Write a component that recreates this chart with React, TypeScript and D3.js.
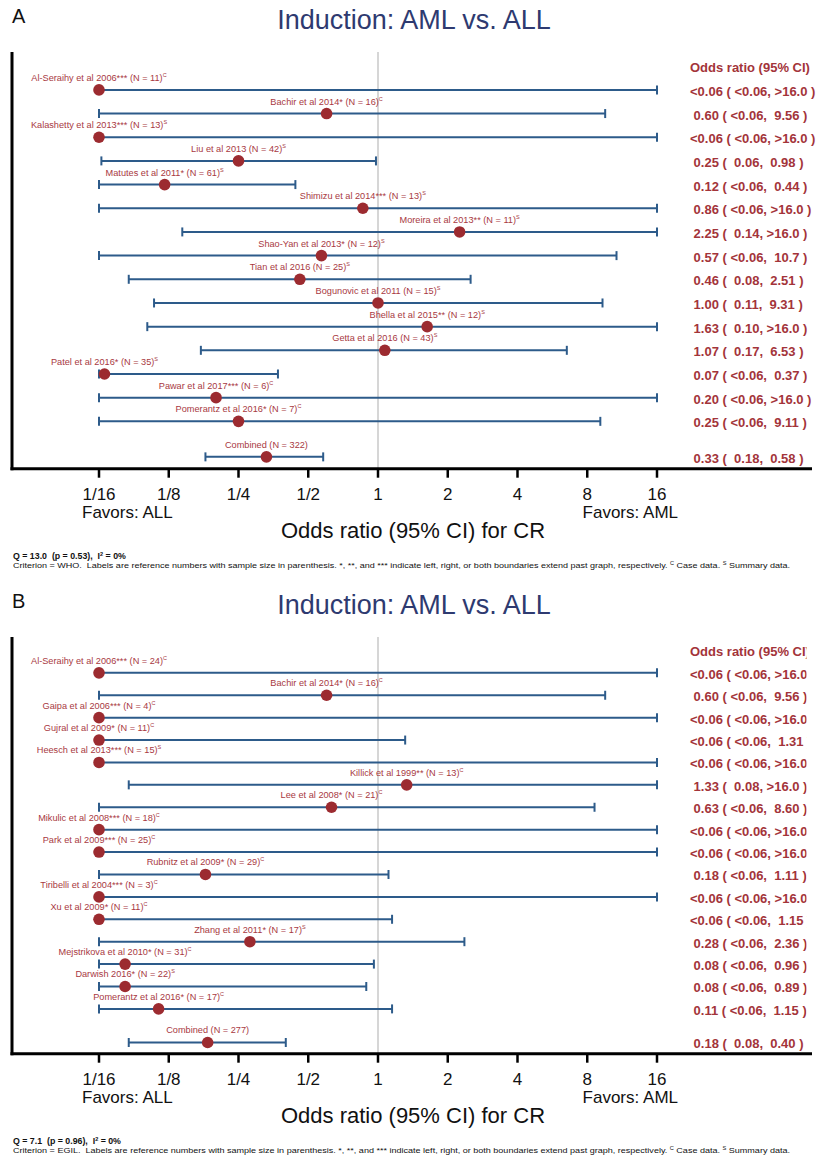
import React from "react";
import * as d3 from "d3";

// ---------- Data ----------
const LOW = 0; // below 0.06 (off-scale, left)
const HIGH = Infinity; // above 16 (off-scale, right)

const studiesA = [
  "Al-Seraihy et al 2006", "Bachir et al 2014", "Kalashetty et al 2013", "Liu et al 2013",
  "Matutes et al 2011", "Shimizu et al 2014", "Moreira et al 2013", "Shao-Yan et al 2013",
  "Tian et al 2016", "Bogunovic et al 2011", "Bhella et al 2015", "Getta et al 2016",
  "Patel et al 2016", "Pawar et al 2017", "Pomerantz et al 2016",
];
const flagsA = ["***", "*", "***", "", "*", "***", "**", "*", "", "", "**", "", "*", "***", "*"];
const sizesA = [11, 16, 13, 42, 61, 13, 11, 12, 25, 15, 12, 43, 35, 6, 7];
const sourceA = ["C", "C", "S", "S", "S", "S", "S", "S", "S", "S", "S", "S", "S", "C", "C"];
const orA = [LOW, 0.6, LOW, 0.25, 0.12, 0.86, 2.25, 0.57, 0.46, 1.0, 1.63, 1.07, 0.066, 0.2, 0.25];
const loA = [LOW, LOW, LOW, 0.064, LOW, LOW, 0.143, LOW, 0.084, 0.108, 0.101, 0.172, LOW, LOW, LOW];
const hiA = [HIGH, 9.56, HIGH, 0.98, 0.44, HIGH, HIGH, 10.7, 2.51, 9.31, HIGH, 6.53, 0.37, HIGH, 9.11];
const combinedA = { n: 322, or: 0.33, lo: 0.18, hi: 0.58 };
const statsA = { q: "13.0", p: "0.53", i2: "0%", criterion: "WHO" };

const studiesB = [
  "Al-Seraihy et al 2006", "Bachir et al 2014", "Gaipa et al 2006", "Gujral et al 2009",
  "Heesch et al 2013", "Killick et al 1999", "Lee et al 2008", "Mikulic et al 2008",
  "Park et al 2009", "Rubnitz et al 2009", "Tiribelli et al 2004", "Xu et al 2009",
  "Zhang et al 2011", "Mejstrikova et al 2010", "Darwish 2016", "Pomerantz et al 2016",
];
const flagsB = ["***", "*", "***", "*", "***", "**", "*", "***", "***", "*", "***", "*", "*", "*", "*", "*"];
const sizesB = [24, 16, 4, 11, 15, 13, 21, 18, 25, 29, 3, 11, 17, 31, 22, 17];
const sourceB = ["C", "C", "C", "C", "S", "C", "C", "C", "C", "C", "C", "C", "S", "C", "S", "C"];
const orB = [LOW, 0.6, LOW, LOW, LOW, 1.33, 0.63, LOW, LOW, 0.18, LOW, LOW, 0.28, 0.081, 0.081, 0.113];
const loB = [LOW, LOW, LOW, LOW, LOW, 0.084, LOW, LOW, LOW, LOW, LOW, LOW, LOW, LOW, LOW, LOW];
const hiB = [HIGH, 9.56, HIGH, 1.31, HIGH, HIGH, 8.6, HIGH, HIGH, 1.11, HIGH, 1.15, 2.36, 0.96, 0.89, 1.15];
const combinedB = { n: 277, or: 0.184, lo: 0.084, hi: 0.4 };
const statsB = { q: "7.1", p: "0.96", i2: "0%", criterion: "EGIL" };

const tickValues = [1 / 16, 1 / 8, 1 / 4, 1 / 2, 1, 2, 4, 8, 16];
const tickLabels = ["1/16", "1/8", "1/4", "1/2", "1", "2", "4", "8", "16"];

// ---------- Style ----------
const FONT = "'Liberation Sans', Arial, Helvetica, sans-serif";
const TITLE_COLOR = "#2e3a70";
const LINE_COLOR = "#2d5b8a";
const POINT_COLOR = "#9c2b30";
const LABEL_COLOR = "#a8393f";
const VALUE_COLOR = "#a3343a";

const fmt = (v: number) => {
  if (v < 0.06) return "<0.06";
  if (v > 16) return ">16.0";
  return v >= 10 ? v.toFixed(1) : v.toFixed(2);
};
const pad = (s: string) => s.padStart(5, " ");
const ciText = (o: number, l: number, h: number) => `${pad(fmt(o))} ( ${pad(fmt(l))}, ${pad(fmt(h))} )`;

const x = d3.scaleLog().base(2).domain([1 / 16, 16]).range([99, 657]).clamp(true);
const px = (v: number) => (v <= 0 ? x(1 / 16) : x(Math.min(v, 16)));

interface PanelProps {
  y0: number;
  letter: string;
  studies: string[];
  flags: string[];
  sizes: number[];
  sources: string[];
  or: number[];
  lo: number[];
  hi: number[];
  combined: { n: number; or: number; lo: number; hi: number };
  stats: { q: string; p: string; i2: string; criterion: string };
  clip?: boolean;
}

function Panel(props: PanelProps) {
  const { y0, letter, studies, flags, sizes, sources, or, lo, hi, combined, stats, clip } = props;
  const n = studies.length;
  const top = y0 + 52;
  const bottom = y0 + 468.7;
  const y = d3.scaleLinear().domain([-1.6, n + 1]).range([top, bottom]);
  const rows = studies.map((s, i) => ({
    label: `${s}${flags[i]} (N = ${sizes[i]})`,
    sup: sources[i],
    or: or[i],
    lo: lo[i],
    hi: hi[i],
    yy: y(i),
  }));
  rows.push({
    label: `Combined (N = ${combined.n})`,
    sup: "",
    or: combined.or,
    lo: combined.lo,
    hi: combined.hi,
    yy: y(n + 0.5),
  });
  const clipId = `clip-${letter}`;
  return (
    <g>
      <text x={12} y={y0 + 23} fontSize={20} fontFamily={FONT} fill="#111">{letter}</text>
      <text x={414} y={y0 + 29} fontSize={27} fontFamily={FONT} fill={TITLE_COLOR} textAnchor="middle">
        Induction: AML vs. ALL
      </text>
      {/* reference line at OR = 1 */}
      <line x1={x(1)} x2={x(1)} y1={top} y2={bottom} stroke="#c9c9c9" strokeWidth={1.5} />
      {/* axes */}
      <line x1={12} x2={12} y1={top} y2={bottom + 1.5} stroke="#000" strokeWidth={3} />
      <line x1={10.5} x2={812} y1={bottom} y2={bottom} stroke="#000" strokeWidth={3} />
      {tickValues.map((t, i) => (
        <g key={i}>
          <line x1={x(t)} x2={x(t)} y1={bottom} y2={bottom + 9} stroke="#000" strokeWidth={2.5} />
          <text x={x(t)} y={y0 + 500} fontSize={17} fontFamily={FONT} textAnchor="middle" fill="#111">
            {tickLabels[i]}
          </text>
        </g>
      ))}
      <text x={82} y={y0 + 518} fontSize={17} fontFamily={FONT} fill="#111">Favors: ALL</text>
      <text x={678} y={y0 + 518} fontSize={17} fontFamily={FONT} fill="#111" textAnchor="end">Favors: AML</text>
      <text x={413} y={y0 + 538} fontSize={22} fontFamily={FONT} fill="#111" textAnchor="middle">
        Odds ratio (95% CI) for CR
      </text>
      {/* rows */}
      {rows.map((r, i) => {
        const xl = px(r.lo);
        const xh = px(r.hi);
        const xo = px(r.or);
        return (
          <g key={i}>
            <line x1={xl} x2={xh} y1={r.yy} y2={r.yy} stroke={LINE_COLOR} strokeWidth={2} />
            <line x1={xl} x2={xl} y1={r.yy - 4.5} y2={r.yy + 4.5} stroke={LINE_COLOR} strokeWidth={2} />
            <line x1={xh} x2={xh} y1={r.yy - 4.5} y2={r.yy + 4.5} stroke={LINE_COLOR} strokeWidth={2} />
            <circle cx={xo} cy={r.yy} r={5.8} fill={POINT_COLOR} />
            <text x={xo} y={r.yy - 9} fontSize={9.2} fontFamily={FONT} fill={LABEL_COLOR} textAnchor="middle">
              {r.label}
              {r.sup ? <tspan fontSize={5.5} dy={-4}>{r.sup}</tspan> : null}
            </text>
          </g>
        );
      })}
      {/* right column */}
      {clip ? (
        <defs>
          <clipPath id={clipId}>
            <rect x={0} y={y0} width={806.5} height={600} />
          </clipPath>
        </defs>
      ) : null}
      <g clipPath={clip ? `url(#${clipId})` : undefined}>
        <text x={690} y={y(-1) + 6} fontSize={13} fontWeight="bold" fontFamily={FONT} fill={VALUE_COLOR}>
          Odds ratio (95% CI)
        </text>
        {rows.map((r, i) => (
          <text
            key={i}
            x={690}
            y={r.yy + 6}
            fontSize={13}
            fontWeight="bold"
            fontFamily={FONT}
            fill={VALUE_COLOR}
            xmlSpace="preserve"
            style={{ whiteSpace: "pre" }}
          >
            {ciText(r.or, r.lo, r.hi)}
          </text>
        ))}
      </g>
      {/* footnote */}
      <text x={13} y={y0 + 559} fontSize={8.8} fontWeight="bold" fontFamily={FONT} fill="#111"
        xmlSpace="preserve" style={{ whiteSpace: "pre" }}>
        {`Q = ${stats.q}  (p = ${stats.p}),  I`}
        <tspan fontSize={5.5} dy={-3.5}>2</tspan>
        <tspan dy={3.5}>{` = ${stats.i2}`}</tspan>
      </text>
      <text x={13} y={y0 + 568} fontSize={8} fontFamily={FONT} fill="#111" textLength={777}
        lengthAdjust="spacingAndGlyphs" xmlSpace="preserve" style={{ whiteSpace: "pre" }}>
        {`Criterion = ${stats.criterion}.  Labels are reference numbers with sample size in parenthesis. *, **, and *** indicate left, right, or both boundaries extend past graph, respectively. `}
        <tspan fontSize={5} dy={-3}>C</tspan>
        <tspan dy={3}>{" Case data. "}</tspan>
        <tspan fontSize={5} dy={-3}>S</tspan>
        <tspan dy={3}>{" Summary data."}</tspan>
      </text>
    </g>
  );
}

export default function App() {
  return (
    <svg
      width={819}
      height={1159}
      style={{ position: "absolute", left: 0, top: 0, background: "#fff" }}
    >
      <rect x={0} y={0} width={819} height={1159} fill="#fff" />
      <Panel y0={0} letter="A" studies={studiesA} flags={flagsA} sizes={sizesA} sources={sourceA}
        or={orA} lo={loA} hi={hiA} combined={combinedA} stats={statsA} />
      <Panel y0={585} letter="B" studies={studiesB} flags={flagsB} sizes={sizesB} sources={sourceB}
        or={orB} lo={loB} hi={hiB} combined={combinedB} stats={statsB} clip />
    </svg>
  );
}
